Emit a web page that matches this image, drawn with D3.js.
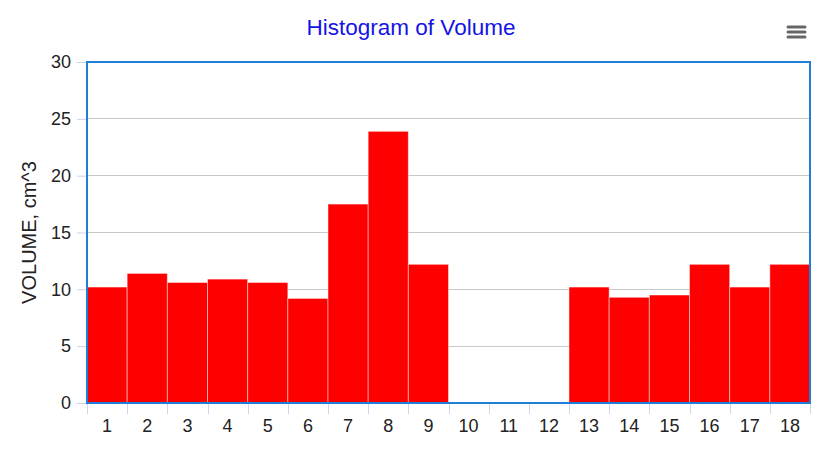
<!DOCTYPE html>
<html>
<head>
<meta charset="utf-8">
<script src="https://cdn.jsdelivr.net/npm/d3@7"></script>
<style>
  html, body { margin: 0; padding: 0; background: #fff; }
  svg { display: block; font-family: "Liberation Sans", Arial, sans-serif; }
</style>
</head>
<body>
<svg id="chart" width="822" height="455"></svg>
<script>
const categories = ["1","2","3","4","5","6","7","8","9","10","11","12","13","14","15","16","17","18"];
const volumes = [10.2, 11.4, 10.6, 10.9, 10.6, 9.2, 17.5, 23.9, 12.2, 0, 0, 0, 10.2, 9.3, 9.5, 12.2, 10.2, 12.2];
const yTicks = [0, 5, 10, 15, 20, 25, 30];
const titleText = "Histogram of Volume";
const yTitle = "VOLUME, cm^3";

const svg = d3.select("#chart");
const margin = { left: 87, right: 12, top: 62, bottom: 52 };
const W = 822, H = 455;

const x = d3.scaleBand().domain(categories).range([margin.left, W - margin.right]).padding(0);
const y = d3.scaleLinear().domain([0, 30]).range([H - margin.bottom, margin.top]);

// gridlines
svg.append("g").selectAll("line").data(yTicks).join("line")
  .attr("x1", margin.left).attr("x2", W - margin.right)
  .attr("y1", d => y(d)).attr("y2", d => y(d))
  .attr("stroke", "#c8c8c8").attr("stroke-width", 1).attr("shape-rendering", "crispEdges");

// y axis
const yAxis = svg.append("g").attr("transform", `translate(${margin.left},0)`)
  .call(d3.axisLeft(y).tickValues(yTicks).tickSize(10).tickPadding(6));
yAxis.select(".domain").remove();
yAxis.selectAll(".tick line").attr("stroke", "#c8d2e6");
yAxis.selectAll(".tick text").attr("font-size", 18).attr("fill", "#222").attr("font-family", "Liberation Sans, Arial, sans-serif");

// bars
svg.append("g").selectAll("rect").data(volumes).join("rect")
  .attr("x", (d, i) => x(categories[i]))
  .attr("width", x.bandwidth())
  .attr("y", d => y(d))
  .attr("height", d => y(0) - y(d))
  .attr("fill", "#ff0000")
  .attr("stroke", "rgba(255,255,255,0.45)")
  .attr("stroke-width", 1);

// x axis ticks at band boundaries
const bounds = categories.map(c => x(c)).concat([x(categories[categories.length - 1]) + x.bandwidth()]);
svg.append("g").selectAll("line").data(bounds).join("line")
  .attr("x1", d => Math.round(d) + 0.5).attr("x2", d => Math.round(d) + 0.5)
  .attr("y1", y(0)).attr("y2", y(0) + 11)
  .attr("stroke", "#ccd6eb").attr("stroke-width", 1);

svg.append("g").selectAll("text").data(categories).join("text")
  .attr("x", d => x(d) + x.bandwidth() / 2)
  .attr("y", y(0) + 29)
  .attr("text-anchor", "middle")
  .attr("font-size", 18).attr("fill", "#222")
  .text(d => d);

// plot border
svg.append("rect")
  .attr("x", margin.left).attr("y", margin.top)
  .attr("width", W - margin.right - margin.left)
  .attr("height", y(0) - margin.top)
  .attr("fill", "none").attr("stroke", "#1f7fd6").attr("stroke-width", 2);

// title
svg.append("text").attr("x", 411).attr("y", 35).attr("text-anchor", "middle")
  .attr("font-size", 22.5).attr("fill", "#1414e6").text(titleText);

// y title
svg.append("text")
  .attr("transform", `translate(36, ${(margin.top + y(0)) / 2}) rotate(-90)`)
  .attr("text-anchor", "middle").attr("font-size", 20).attr("fill", "#222")
  .text(yTitle);

// menu icon
const menu = svg.append("g");
[0, 5, 10].forEach(dy => {
  menu.append("line").attr("x1", 788).attr("x2", 805)
    .attr("y1", 27 + dy).attr("y2", 27 + dy)
    .attr("stroke", "#666").attr("stroke-width", 3).attr("stroke-linecap", "round");
});
</script>
</body>
</html>
